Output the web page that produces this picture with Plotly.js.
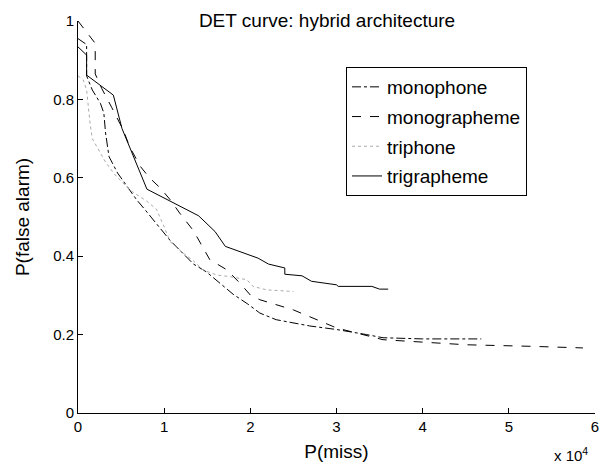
<!DOCTYPE html>
<html>
<head>
<meta charset="utf-8">
<script src="https://cdn.plot.ly/plotly-3.0.1.min.js"></script>
<style>html,body{margin:0;padding:0;background:#fff;}#chart{width:602px;height:465px;}</style>
</head>
<body>
<div id="chart"></div>
<script>
// P(miss) in units of 1e4, P(false alarm)
var monophoneX = [0.0, 0.1, 0.1, 0.166, 0.26, 0.30, 0.32, 0.36, 0.46, 0.55, 0.68, 0.78, 0.91, 1.07, 1.34, 1.49, 1.80, 1.97, 2.11, 2.30, 2.69, 3.00, 3.35, 3.54, 4.00, 4.68];
var monophoneY = [0.955, 0.94, 0.86, 0.824, 0.79, 0.765, 0.714, 0.654, 0.612, 0.585, 0.544, 0.518, 0.484, 0.44, 0.38, 0.36, 0.303, 0.278, 0.255, 0.238, 0.222, 0.213, 0.200, 0.192, 0.189, 0.189];

var monographemeX = [0.0, 0.1, 0.2, 0.2, 0.275, 0.39, 0.525, 0.60, 0.72, 0.83, 0.95, 1.07, 1.18, 1.34, 1.45, 1.53, 1.73, 1.88, 2.00, 2.11, 2.50, 2.885, 3.00, 3.54, 4.00, 4.51, 5.28, 5.86];
var monographemeY = [1.0, 0.97, 0.943, 0.865, 0.828, 0.78, 0.722, 0.679, 0.63, 0.60, 0.575, 0.544, 0.51, 0.465, 0.42, 0.391, 0.365, 0.331, 0.301, 0.289, 0.263, 0.229, 0.217, 0.187, 0.18, 0.174, 0.170, 0.166];

var triphoneX = [0.0, 0.06, 0.1, 0.12, 0.14, 0.166, 0.25, 0.32, 0.42, 0.60, 0.80, 0.91, 0.99, 1.07, 1.22, 1.34, 1.45, 1.61, 1.76, 1.96, 2.03, 2.19, 2.50];
var triphoneY = [0.86, 0.85, 0.824, 0.773, 0.739, 0.70, 0.668, 0.64, 0.61, 0.569, 0.54, 0.52, 0.48, 0.437, 0.408, 0.388, 0.365, 0.352, 0.348, 0.34, 0.323, 0.314, 0.31];

var trigraphemeX = [0.0, 0.10, 0.10, 0.41, 0.51, 0.80, 1.40, 1.59, 1.71, 2.09, 2.21, 2.40, 2.40, 2.60, 2.71, 3.00, 3.02, 3.41, 3.50, 3.60];
var trigraphemeY = [0.934, 0.913, 0.862, 0.811, 0.726, 0.571, 0.503, 0.463, 0.425, 0.395, 0.380, 0.370, 0.354, 0.350, 0.336, 0.327, 0.323, 0.323, 0.316, 0.316];

var seriesNames = ['monophone', 'monographeme', 'triphone', 'trigrapheme'];
var xTicks = [0, 1, 2, 3, 4, 5, 6];
var xTickLabels = ['0', '1', '2', '3', '4', '5', '6'];
var yTicks = [0, 0.2, 0.4, 0.6, 0.8, 1];
var yTickLabels = ['0', '0.2', '0.4', '0.6', '0.8', '1'];

var FONT = 'Liberation Sans, Arial, Helvetica, sans-serif';
var xs = [monophoneX, monographemeX, triphoneX, trigraphemeX];
var ys = [monophoneY, monographemeY, triphoneY, trigraphemeY];
var dashes = ['dashdot', 'dash', 'dot', 'solid'];
var colors = ['#000000', '#000000', '#aaaaaa', '#000000'];

var traces = seriesNames.map(function (n, i) {
  return {
    x: xs[i], y: ys[i], name: n, type: 'scatter', mode: 'lines',
    legendgroup: 'g' + i,
    line: {color: colors[i], width: 1, dash: dashes[i]}
  };
});

var layout = {
  width: 602, height: 465,
  margin: {l: 78, r: 7, t: 21, b: 52},
  paper_bgcolor: '#fff', plot_bgcolor: '#fff',
  font: {family: FONT, size: 15, color: '#000'},
  title: {text: 'DET curve: hybrid architecture', font: {family: FONT, size: 19, color: '#000'},
          x: 327 / 602, xanchor: 'center', xref: 'container', y: 1 - 20 / 465, yanchor: 'middle', yref: 'container'},
  xaxis: {
    range: [0, 6], tickvals: xTicks, ticktext: xTickLabels,
    ticks: 'inside', ticklen: 5, tickcolor: '#000', showline: true, linecolor: '#000', linewidth: 1,
    showgrid: false, zeroline: false, mirror: false,
    tickfont: {family: FONT, size: 15, color: '#000'},
    title: {text: 'P(miss)', font: {family: FONT, size: 19, color: '#000'}, standoff: 10}
  },
  yaxis: {
    range: [0, 1], tickvals: yTicks, ticktext: yTickLabels,
    ticks: 'inside', ticklen: 5, tickcolor: '#000', showline: true, linecolor: '#000', linewidth: 1,
    showgrid: false, zeroline: false, mirror: false,
    tickfont: {family: FONT, size: 15, color: '#000'},
    title: {text: 'P(false alarm)', font: {family: FONT, size: 19, color: '#000'}, standoff: 18}
  },
  legend: {
    x: (346 - 78) / 517, y: 1 - (67 - 21) / 392, xanchor: 'left', yanchor: 'top',
    bgcolor: '#fff', bordercolor: '#000', borderwidth: 1,
    font: {family: FONT, size: 19, color: '#000'},
    itemwidth: 30, tracegroupgap: 2
  },
  showlegend: true,
  annotations: [{
    text: 'x 10<sup>4</sup>', xref: 'paper', yref: 'paper', x: 1, y: 0,
    xanchor: 'right', yanchor: 'top', yshift: -30, xshift: -5, showarrow: false,
    font: {family: FONT, size: 15, color: '#000'}
  }]
};

Plotly.newPlot('chart', traces, layout, {displayModeBar: false, staticPlot: true});
</script>
</body>
</html>
